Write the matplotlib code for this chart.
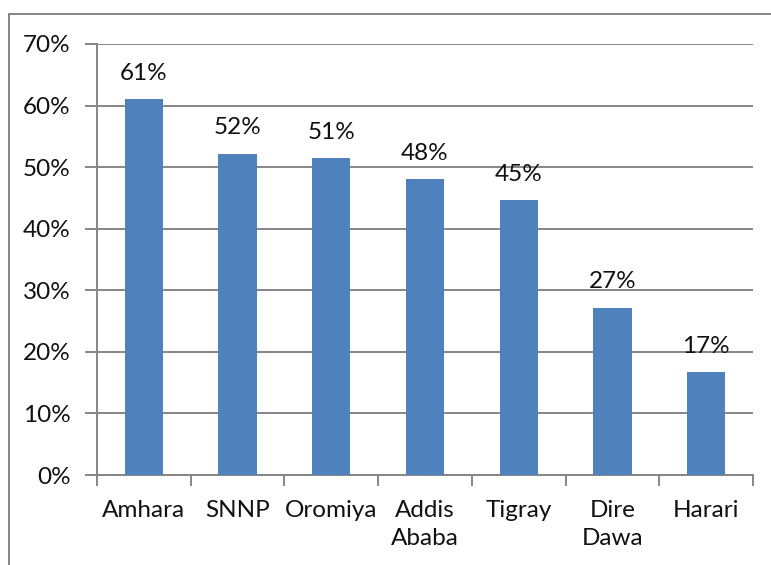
import numpy as np
import matplotlib.pyplot as plt
from matplotlib.lines import Line2D

regions = ['Amhara', 'SNNP', 'Oromiya', 'Addis\nAbaba', 'Tigray', 'Dire\nDawa', 'Harari']
shares = [61.1, 52.2, 51.5, 48.1, 44.6, 27.2, 16.7]
value_labels = ['61%', '52%', '51%', '48%', '45%', '27%', '17%']
yticks = [0, 10, 20, 30, 40, 50, 60, 70]

plt.rcParams['font.family'] = ['Lato', 'DejaVu Sans']
grey = '#868686'
fs = 17.5

fig = plt.figure(figsize=(7.71, 5.65), dpi=100)
ax = fig.add_axes([97 / 771, 1 - 475 / 565, (753 - 97) / 771, (475 - 44) / 565])

x = np.arange(len(regions))
ax.bar(x, shares, width=0.41, color='#4F81BD', zorder=3)

for xi, v, lab in zip(x, shares, value_labels):
    ax.annotate(lab, (xi, v), xytext=(0, 11), textcoords='offset points',
                ha='center', va='bottom', fontsize=fs, color='#111111')

ax.set_xlim(-0.5, len(regions) - 0.5)
ax.set_ylim(0, 70)
ax.set_yticks(yticks)
ax.set_yticklabels([f'{t}%' for t in yticks])
ax.yaxis.grid(True, color=grey, linewidth=1.4, zorder=0)

ax.set_xticks(x)
ax.set_xticklabels(regions, linespacing=1.4)
ax.set_xticks(np.arange(-0.5, len(regions)), minor=True)
ax.tick_params(axis='x', which='major', length=0, pad=18, labelsize=fs, labelcolor='#111111')
ax.tick_params(axis='x', which='minor', length=8, width=1.4, color=grey, direction='out')
ax.tick_params(axis='y', length=9, width=1.4, color=grey, pad=10, labelsize=fs, labelcolor='#111111')

for side in ['top', 'right']:
    ax.spines[side].set_visible(False)
for side in ['left', 'bottom']:
    ax.spines[side].set_color(grey)
    ax.spines[side].set_linewidth(1.4)

# outer chart border (left and top edges visible)
fig.add_artist(Line2D([9 / 771, 9 / 771], [0, 1 - 14 / 565], transform=fig.transFigure, color=grey, linewidth=1.4))
fig.add_artist(Line2D([9 / 771, 1], [1 - 14 / 565, 1 - 14 / 565], transform=fig.transFigure, color=grey, linewidth=1.4))

fig.savefig('out.png', dpi=100)
